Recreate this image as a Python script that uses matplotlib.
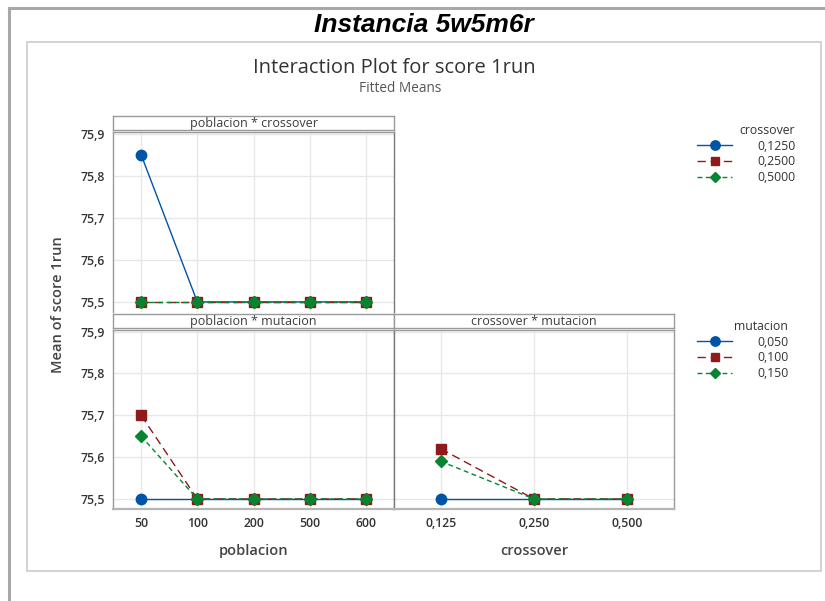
import matplotlib
matplotlib.use("Agg")
import matplotlib.pyplot as plt
from matplotlib.lines import Line2D
from matplotlib.patches import Rectangle

# ---- data ----
poblacion_levels = ["50", "100", "200", "500", "600"]
crossover_levels = ["0,125", "0,250", "0,500"]
crossover_legend = ["0,1250", "0,2500", "0,5000"]
mutacion_legend = ["0,050", "0,100", "0,150"]

# poblacion * crossover (series per crossover level)
pc_0125 = [75.85, 75.50, 75.50, 75.50, 75.50]
pc_0250 = [75.50, 75.50, 75.50, 75.50, 75.50]
pc_0500 = [75.50, 75.50, 75.50, 75.50, 75.50]

# poblacion * mutacion (series per mutacion level)
pm_0050 = [75.50, 75.50, 75.50, 75.50, 75.50]
pm_0100 = [75.70, 75.50, 75.50, 75.50, 75.50]
pm_0150 = [75.65, 75.50, 75.50, 75.50, 75.50]

# crossover * mutacion
cm_0050 = [75.50, 75.50, 75.50]
cm_0100 = [75.62, 75.50, 75.50]
cm_0150 = [75.59, 75.50, 75.50]

y_ticks = [75.5, 75.6, 75.7, 75.8, 75.9]
y_ticklabels = ["75,5", "75,6", "75,7", "75,8", "75,9"]

# ---- styles ----
BLUE = "#0054A6"
RED = "#8E1A1A"
GREEN = "#07842F"
styles = [
    dict(color=BLUE, linestyle="-", marker="o", markersize=7.5, linewidth=1.0),
    dict(color=RED, linestyle=(0, (6, 3.5)), marker="s", markersize=7, linewidth=1.0),
    dict(color=GREEN, linestyle=(0, (3.5, 2.5)), marker="D", markersize=5.8, linewidth=1.0),
]

W, H = 825, 601
fig = plt.figure(figsize=(W / 100, H / 100), dpi=100)
fig.patch.set_facecolor("white")
FONT = ["Open Sans", "DejaVu Sans"]
plt.rcParams["font.family"] = FONT


def px_axes(x0, y0, x1, y1, **kw):
    return fig.add_axes([x0 / W, 1 - y1 / H, (x1 - x0) / W, (y1 - y0) / H], **kw)


# outer decorations (borders)
bg = px_axes(0, 0, W, H)
bg.set_xlim(0, W)
bg.set_ylim(H, 0)
bg.axis("off")
bg.add_line(Line2D([9, 825], [8, 8], color="#A8A8A8", lw=2.2))
bg.add_line(Line2D([9, 9], [8, 601], color="#A8A8A8", lw=2.2))
bg.add_patch(Rectangle((27, 42), 794, 529, fill=False, edgecolor="#CFCFCF", lw=1.3))

fig.text(424 / W, 1 - 25 / H, "Instancia 5w5m6r", ha="center", va="center",
         fontsize=19, fontweight="bold", fontstyle="italic",
         family=["Liberation Sans", "DejaVu Sans"], color="black")
fig.text(394 / W, 1 - 68 / H, "Interaction Plot for score 1run", ha="center",
         va="center", fontsize=14.5, color="#333333")
fig.text(400 / W, 1 - 88 / H, "Fitted Means", ha="center", va="center",
         fontsize=9.8, color="#555555")

YLIM = (75.476, 75.905)
SPINE = "#9A9A9A"


def make_panel(x0, x1, ytop, ybot, title, nx, left_ticks, xlabels):
    # strip
    st = px_axes(x0, ytop - 16, x1, ytop - 1.5)
    st.set_xticks([]); st.set_yticks([])
    st.set_facecolor("white")
    for s in st.spines.values():
        s.set_color(SPINE); s.set_linewidth(1.0)
    st.text(0.5, 0.45, title, ha="center", va="center", fontsize=9,
            color="#3C3C3C", transform=st.transAxes)
    ax = px_axes(x0, ytop, x1, ybot)
    ax.set_xlim(0.5, nx + 0.5)
    ax.set_ylim(*YLIM)
    ax.set_yticks(y_ticks)
    ax.set_xticks(range(1, nx + 1))
    ax.grid(True, color="#E8E8E8", lw=1.0)
    ax.set_axisbelow(True)
    for s in ax.spines.values():
        s.set_color(SPINE); s.set_linewidth(1.0)
    ax.tick_params(length=0, labelsize=8.8, colors="#333333", pad=6)
    if left_ticks:
        ax.set_yticklabels(y_ticklabels, fontweight="semibold")
    else:
        ax.set_yticklabels([])
    if xlabels is not None:
        ax.set_xticklabels(xlabels, fontweight="semibold")
    else:
        ax.set_xticklabels([])
    return ax


ax1 = make_panel(113, 394, 131.5, 312, "poblacion * crossover", 5, True, None)
ax2 = make_panel(113, 394, 329.5, 509, "poblacion * mutacion", 5, True, poblacion_levels)
ax3 = make_panel(394, 674, 329.5, 509, "crossover * mutacion", 3, False, crossover_levels)
ax3.spines["left"].set_color("#7A7A7A")
ax1.spines["right"].set_color("#7A7A7A")
ax1.spines["bottom"].set_visible(False)
ax2.spines["right"].set_color("#7A7A7A")
for a in (ax2, ax3):
    a.spines["bottom"].set_color("#B5B5B5")
    a.spines["bottom"].set_linewidth(1.6)

x5 = range(1, 6)
x3 = range(1, 4)
h1 = []
for ys, st in zip([pc_0125, pc_0250, pc_0500], styles):
    h1.append(ax1.plot(x5, ys, clip_on=False, zorder=3, **st)[0])
h2 = []
for ys, st in zip([pm_0050, pm_0100, pm_0150], styles):
    h2.append(ax2.plot(x5, ys, clip_on=False, zorder=3, **st)[0])
for ys, st in zip([cm_0050, cm_0100, cm_0150], styles):
    ax3.plot(x3, ys, clip_on=False, zorder=3, **st)

ax2.set_xlabel("poblacion", fontsize=10.5, fontweight="semibold", color="#444444", labelpad=10)
ax3.set_xlabel("crossover", fontsize=10.5, fontweight="semibold", color="#444444", labelpad=10)
fig.text(58 / W, 1 - 305 / H, "Mean of score 1run", rotation=90, ha="center",
         va="center", fontsize=10.5, fontweight="semibold", color="#444444")

leg_kw = dict(loc="upper left", frameon=False, fontsize=8.8, title_fontsize=8.8,
              handlelength=2.9, handletextpad=2.0, labelspacing=0.22,
              borderpad=0, borderaxespad=0, alignment="right", markerscale=0.9)
l1 = fig.legend(h1, crossover_legend, title="crossover",
                bbox_to_anchor=(697 / W, 1 - 124 / H), **leg_kw)
l2 = fig.legend(h2, mutacion_legend, title="mutacion",
                bbox_to_anchor=(697 / W, 1 - 320 / H), **leg_kw)
for lg in (l1, l2):
    lg.get_title().set_color("#333333")
    for t in lg.get_texts():
        t.set_color("#333333")

fig.savefig("out.png", dpi=100, facecolor="white")
